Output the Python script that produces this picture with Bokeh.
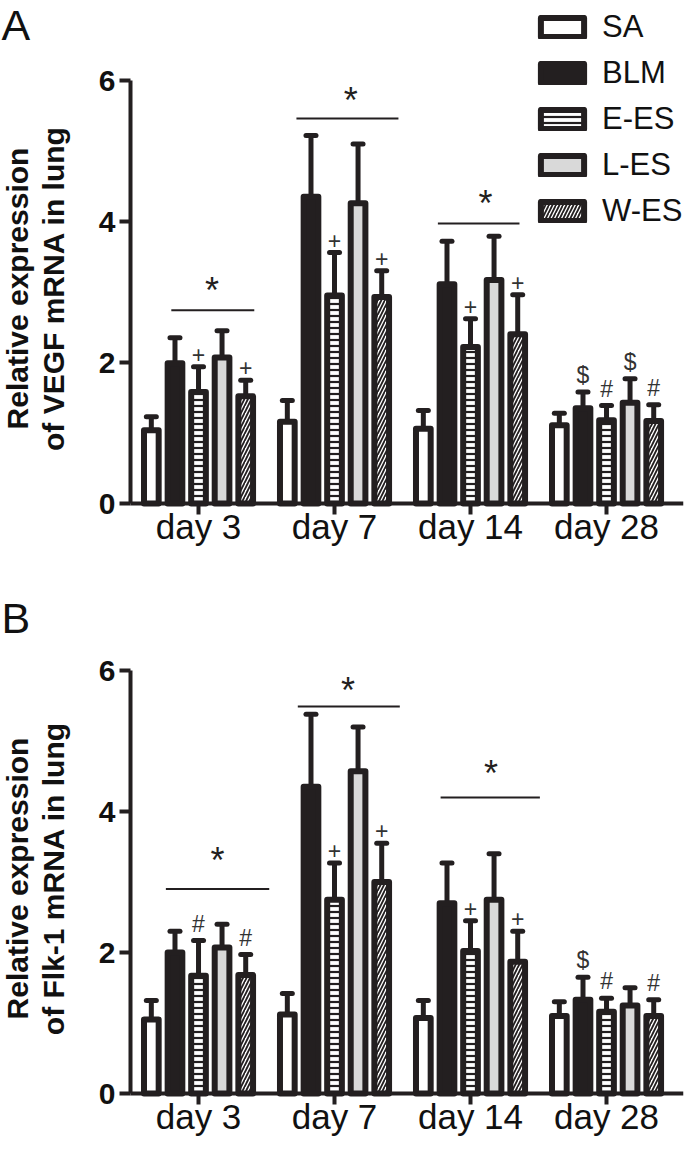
import math
from bokeh.plotting import figure
from bokeh.models import (Range1d, FixedTicker, ColumnDataSource,
                          Legend, LegendItem, Label)
from bokeh.transform import dodge
from bokeh.layouts import column
from bokeh.embed import file_html
from bokeh.resources import INLINE
from bokeh.core.properties import value

# ---------------- data ----------------
days = ["day 3", "day 7", "day 14", "day 28"]
groups = ["SA", "BLM", "E-ES", "L-ES", "W-ES"]
y_ticks = [0, 2, 4, 6]

# Panel A : VEGF mRNA (mean, SD)
vegf_sa = [1.04, 1.16, 1.06, 1.11]
vegf_sa_sd = [0.19, 0.30, 0.26, 0.17]
vegf_blm = [1.99, 4.35, 3.11, 1.35]
vegf_blm_sd = [0.36, 0.87, 0.61, 0.23]
vegf_ees = [1.58, 2.95, 2.22, 1.18]
vegf_ees_sd = [0.36, 0.61, 0.40, 0.21]
vegf_les = [2.07, 4.26, 3.17, 1.43]
vegf_les_sd = [0.38, 0.84, 0.62, 0.34]
vegf_wes = [1.52, 2.93, 2.40, 1.17]
vegf_wes_sd = [0.23, 0.37, 0.56, 0.23]
vegf_sym_sa = ["", "", "", ""]
vegf_sym_blm = ["", "", "", "$"]
vegf_sym_ees = ["+", "+", "+", "#"]
vegf_sym_les = ["", "", "", "$"]
vegf_sym_wes = ["+", "+", "+", "#"]
# significance bars: day, start offset, end offset, level, star offset, star level
vegf_sig_day = ["day 3", "day 7", "day 14"]
vegf_sig_x0 = [-0.20, -0.28, -0.24]
vegf_sig_x1 = [0.41, 0.47, 0.36]
vegf_sig_y = [2.74, 5.46, 3.97]
vegf_star_x = [0.10, 0.12, 0.11]
vegf_star_y = [3.14, 5.83, 4.37]

# Panel B : Flk-1 mRNA (mean, SD)
flk_sa = [1.05, 1.12, 1.07, 1.10]
flk_sa_sd = [0.27, 0.30, 0.25, 0.20]
flk_blm = [2.00, 4.35, 2.70, 1.33]
flk_blm_sd = [0.30, 1.03, 0.57, 0.32]
flk_ees = [1.67, 2.75, 2.02, 1.16]
flk_ees_sd = [0.50, 0.52, 0.43, 0.19]
flk_les = [2.07, 4.57, 2.75, 1.25]
flk_les_sd = [0.33, 0.63, 0.65, 0.25]
flk_wes = [1.68, 3.00, 1.87, 1.10]
flk_wes_sd = [0.29, 0.55, 0.43, 0.23]
flk_sym_sa = ["", "", "", ""]
flk_sym_blm = ["", "", "", "$"]
flk_sym_ees = ["#", "+", "+", "#"]
flk_sym_les = ["", "", "", ""]
flk_sym_wes = ["#", "+", "+", "#"]
flk_sig_day = ["day 3", "day 7", "day 14"]
flk_sig_x0 = [-0.24, -0.27, -0.22]
flk_sig_x1 = [0.52, 0.48, 0.51]
flk_sig_y = [2.90, 5.49, 4.20]
flk_star_x = [0.14, 0.10, 0.15]
flk_star_y = [3.42, 5.83, 4.65]

# ---------------- style ----------------
DARK = "#231f20"
TXT = "#111111"
FONT = "Liberation Sans"
PX_PER_UNIT = 70.5          # vertical pixels per data unit
ZERO_FROM_TOP = 503         # canvas pixel row of y = 0
offsets = [-0.347, -0.173, 0.0, 0.173, 0.347]
styles = {
    "SA": dict(fill_color="white"),
    "BLM": dict(fill_color=DARK),
    "E-ES": dict(fill_color="white", hatch_pattern="horizontal_line",
                 hatch_scale=6, hatch_weight=2.2, hatch_color=DARK),
    "L-ES": dict(fill_color="#d9d9d9"),
    "W-ES": dict(fill_color="white", hatch_pattern="right_diagonal_line",
                 hatch_scale=7, hatch_weight=1.8, hatch_color=DARK),
}
# category slots on the x scale: slot i spans [i, i+1]
day_pos = {d: i + 0.5 for i, d in enumerate(days)}


def make_panel(letter, ylabel1, ylabel2, means, sds, syms, sig,
               height, letter_top, show_legend):
    y_top = ZERO_FROM_TOP / PX_PER_UNIT
    y_bot = -(height - ZERO_FROM_TOP) / PX_PER_UNIT
    p = figure(x_range=Range1d(-0.956, 4.066), y_range=Range1d(y_bot, y_top),
               width=685, height=height, output_backend="svg", toolbar_location=None,
               min_border_left=0, min_border_right=2, min_border_top=0,
               min_border_bottom=0)
    p.outline_line_color = None
    p.xgrid.grid_line_color = None
    p.ygrid.grid_line_color = None
    p.background_fill_color = "white"
    p.border_fill_color = "white"

    items = []
    for g, off, m, s, sy in zip(groups, offsets, means, sds, syms):
        src = ColumnDataSource(dict(pos=[day_pos[d] for d in days], mean=m,
                                    top=[a + b for a, b in zip(m, s)], sym=sy))
        xd = dodge("pos", off)
        p.segment(x0=xd, y0="mean", x1=xd, y1="top", source=src,
                  line_color=DARK, line_width=5)
        p.scatter(x=xd, y="top", source=src, marker="dash", size=10,
                  line_color=DARK, line_width=5, line_cap="round")
        r = p.vbar(x=xd, top="mean", bottom=0, width=0.108, source=src,
                   line_color=DARK, line_width=6, line_join="round", **styles[g])
        p.text(x=xd, y="top", text="sym", source=src, text_align="center",
               text_baseline="bottom", y_offset=-4, text_color="#333333",
               text_font=value(FONT), text_font_size="23px")
        items.append(LegendItem(label=g, renderers=[r]))

    sday, sx0, sx1, sy_, stx, sty = sig
    sig_src = ColumnDataSource(dict(
        x0=[day_pos[d] + o for d, o in zip(sday, sx0)],
        x1=[day_pos[d] + o for d, o in zip(sday, sx1)],
        y=sy_,
        sx=[day_pos[d] + o for d, o in zip(sday, stx)],
        sty=sty,
        star=["*"] * len(sday)))
    p.segment(x0="x0", y0="y", x1="x1", y1="y", source=sig_src,
              line_color=DARK, line_width=2)
    p.text(x="sx", y="sty", text="star", source=sig_src, text_align="center",
           text_baseline="middle", y_offset=8, text_color=DARK,
           text_font=value(FONT), text_font_size="36px")

    if show_legend:
        leg = Legend(items=items, location=(535, height - 229), margin=0, padding=0,
                     border_line_color=None, background_fill_alpha=0,
                     glyph_width=54, glyph_height=24, label_standoff=13,
                     spacing=10, label_text_font=FONT, label_text_font_size="31px",
                     label_text_color=TXT, label_height=30)
        p.add_layout(leg)

    # axes, drawn at y = 0 and x = left edge of the first category slot
    p.yaxis.ticker = FixedTicker(ticks=y_ticks)
    p.yaxis.bounds = (0, 6)
    p.yaxis.fixed_location = 0
    p.yaxis.major_label_text_font = FONT
    p.yaxis.major_label_text_font_style = "bold"
    p.yaxis.major_label_text_font_size = "30px"
    p.yaxis.major_label_text_color = TXT
    p.yaxis.major_label_standoff = 4
    p.yaxis.minor_tick_line_color = None
    for ax in (p.xaxis, p.yaxis):
        ax.axis_line_width = 4
        ax.axis_line_color = DARK
        ax.major_tick_line_width = 4
        ax.major_tick_line_color = DARK
        ax.major_tick_in = 0
        ax.major_tick_out = 11
    p.xaxis.ticker = FixedTicker(ticks=[day_pos[d] for d in days])
    p.xaxis.major_label_overrides = {day_pos[d]: d for d in days}
    p.xaxis.bounds = (0, 4.066)
    p.xaxis.fixed_location = 0
    p.xaxis.minor_tick_line_color = None
    p.xaxis.major_label_text_font = FONT
    p.xaxis.major_label_text_font_size = "35px"
    p.xaxis.major_label_text_color = TXT
    p.xaxis.major_label_standoff = -8

    # y-axis title (two lines) and panel letter
    for txt, sx in ((ylabel1, 17), (ylabel2, 53)):
        p.add_layout(Label(x=sx, y=height - 288, x_units="screen", y_units="screen",
                           text=txt, angle=math.pi / 2, text_align="center",
                           text_baseline="middle", text_font=FONT,
                           text_font_style="bold", text_font_size="30px",
                           text_color=TXT))
    p.add_layout(Label(x=1, y=height - letter_top, x_units="screen", y_units="screen",
                       text=letter, text_baseline="top", text_align="left",
                       text_font=FONT, text_font_size="43px", text_color=TXT))
    return p


pA = make_panel("A", "Relative expression", "of VEGF mRNA in lung",
                [vegf_sa, vegf_blm, vegf_ees, vegf_les, vegf_wes],
                [vegf_sa_sd, vegf_blm_sd, vegf_ees_sd, vegf_les_sd, vegf_wes_sd],
                [vegf_sym_sa, vegf_sym_blm, vegf_sym_ees, vegf_sym_les, vegf_sym_wes],
                (vegf_sig_day, vegf_sig_x0, vegf_sig_x1, vegf_sig_y, vegf_star_x, vegf_star_y),
                590, 0, True)
pB = make_panel("B", "Relative expression", "of Flk-1 mRNA in lung",
                [flk_sa, flk_blm, flk_ees, flk_les, flk_wes],
                [flk_sa_sd, flk_blm_sd, flk_ees_sd, flk_les_sd, flk_wes_sd],
                [flk_sym_sa, flk_sym_blm, flk_sym_ees, flk_sym_les, flk_sym_wes],
                (flk_sig_day, flk_sig_x0, flk_sig_x1, flk_sig_y, flk_star_x, flk_star_y),
                561, 3, False)

layout = column(pA, pB, spacing=0)
open("out.html", "w").write(file_html(layout, INLINE))
